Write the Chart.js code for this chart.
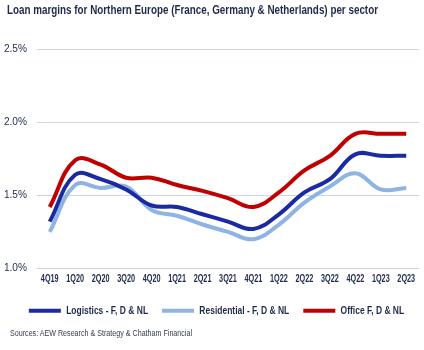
<!DOCTYPE html>
<html>
<head>
<meta charset="utf-8">
<script src="https://cdn.jsdelivr.net/npm/chart.js@4"></script>
<style>
    html, body { margin: 0; padding: 0; background: #fff; }
    body { width: 424px; height: 350px; position: relative; overflow: hidden;
           font-family: "Liberation Sans", Arial, sans-serif; }
    .squeeze { position: absolute; white-space: nowrap; transform-origin: 0 0; display: inline-block; }
    #title { left: 7px; top: 3px; font-size: 12.5px; font-weight: bold; color: #1f2a4a; }
    #source { left: 10px; top: 328px; font-size: 8.5px; color: #353b4e; }
    #wrap { position: absolute; left: 0; top: 0; width: 424px; height: 350px; }
</style>
</head>
<body>
<div id="wrap"><canvas id="marginChart"></canvas></div>
<span id="title" class="squeeze" data-width="371">Loan margins for Northern Europe (France, Germany &amp; Netherlands) per sector</span>
<span id="source" class="squeeze" data-width="182">Sources: AEW Research &amp; Strategy &amp; Chatham Financial</span>
<script>
// Quarters on the x axis
const quarters = ['4Q19', '1Q20', '2Q20', '3Q20', '4Q20', '1Q21', '2Q21', '3Q21', '4Q21', '1Q22', '2Q22', '3Q22', '4Q22', '1Q23', '2Q23'];

// Loan margins in %
const logistics   = [1.32, 1.64, 1.61, 1.54, 1.43, 1.42, 1.37, 1.32, 1.27, 1.37, 1.52, 1.61, 1.78, 1.77, 1.77];
const residential = [1.25, 1.57, 1.55, 1.56, 1.40, 1.36, 1.30, 1.25, 1.20, 1.30, 1.45, 1.56, 1.65, 1.54, 1.55];
const office      = [1.42, 1.74, 1.71, 1.62, 1.62, 1.57, 1.53, 1.48, 1.42, 1.52, 1.67, 1.77, 1.92, 1.92, 1.92];

// Y axis ticks
const yTicks = [1.0, 1.5, 2.0, 2.5];

const fontFamily = '"Liberation Sans", Arial, sans-serif';
const navy = '#1f2a4a';

// Squeeze HTML texts to the condensed widths of the original
document.querySelectorAll('.squeeze').forEach(el => {
    const w = el.getBoundingClientRect().width;
    el.style.transform = 'scaleX(' + (parseFloat(el.dataset.width) / w) + ')';
});

// Condensed look for canvas text: horizontal squeeze per font size
const squeezeBySize = { '10.4px': 0.7, '10.6px': 0.8, '11px': 0.92 };
function squeezeFactor(font) {
    const m = font.match(/(\d+(?:\.\d+)?)px/);
    return (m && squeezeBySize[m[1] + 'px']) || 1;
}

const canvas = document.getElementById('marginChart');
const c2d = canvas.getContext('2d');
const origFill = CanvasRenderingContext2D.prototype.fillText;
const origMeasure = CanvasRenderingContext2D.prototype.measureText;
c2d.fillText = function(text, x, y, maxWidth) {
    const f = squeezeFactor(this.font);
    if (f === 1) return origFill.apply(this, arguments);
    this.save();
    this.translate(x, y);
    this.scale(f, 1);
    origFill.call(this, text, 0, 0);
    this.restore();
};
c2d.measureText = function(text) {
    const m = origMeasure.call(this, text);
    const f = squeezeFactor(this.font);
    return {
        width: m.width * f,
        actualBoundingBoxAscent: m.actualBoundingBoxAscent,
        actualBoundingBoxDescent: m.actualBoundingBoxDescent,
        actualBoundingBoxLeft: m.actualBoundingBoxLeft * f,
        actualBoundingBoxRight: m.actualBoundingBoxRight * f
    };
};

// Nudge the legend a little right and down, like the original
const legendNudge = {
    id: 'legendNudge',
    afterLayout(chart) {
        const lg = chart.legend;
        if (!lg) return;
        lg.left += 7; lg.right += 7;
        lg.top += 3; lg.bottom += 3;
    }
};

new Chart(canvas, {
    type: 'line',
    data: {
        labels: quarters,
        datasets: [
            { label: 'Logistics - F, D & NL', data: logistics, borderColor: '#1a2aa0', backgroundColor: '#1a2aa0' },
            { label: 'Residential - F, D & NL', data: residential, borderColor: '#8db4e2', backgroundColor: '#8db4e2' },
            { label: 'Office F, D & NL', data: office, borderColor: '#c00000', backgroundColor: '#c00000' }
        ].map(ds => Object.assign(ds, {
            borderWidth: 4,
            pointRadius: 0,
            tension: 0.4,
            fill: false
        }))
    },
    plugins: [legendNudge],
    options: {
        responsive: true,
        maintainAspectRatio: false,
        animation: false,
        layout: { padding: { left: 0, right: 5, top: 49, bottom: 27 } },
        plugins: {
            legend: {
                position: 'bottom',
                labels: {
                    boxWidth: 32,
                    boxHeight: 4,
                    padding: 14,
                    color: navy,
                    font: { family: fontFamily, size: 10.6, weight: 'bold' },
                    generateLabels: chart => Chart.defaults.plugins.legend.labels.generateLabels(chart)
                        .map(item => Object.assign(item, { lineWidth: 0 }))
                }
            },
            tooltip: { enabled: false }
        },
        scales: {
            x: {
                offset: true,
                grid: { display: false },
                border: { display: false },
                afterFit: axis => { axis.height = 20; },
                ticks: {
                    maxRotation: 0,
                    autoSkip: false,
                    color: navy,
                    padding: -3,
                    font: { family: fontFamily, size: 10.4, weight: 'bold' }
                }
            },
            y: {
                min: 1.0,
                max: 2.5,
                afterBuildTicks: axis => { axis.ticks = yTicks.map(v => ({ value: v })); },
                afterFit: axis => { axis.width = 37; },
                grid: { color: '#cdd5f0', drawTicks: false, lineWidth: 1 },
                border: { display: false },
                ticks: {
                    color: navy,
                    padding: 10,
                    font: { family: fontFamily, size: 11 },
                    callback: v => v.toFixed(1) + '%'
                }
            }
        }
    }
});
</script>
</body>
</html>
